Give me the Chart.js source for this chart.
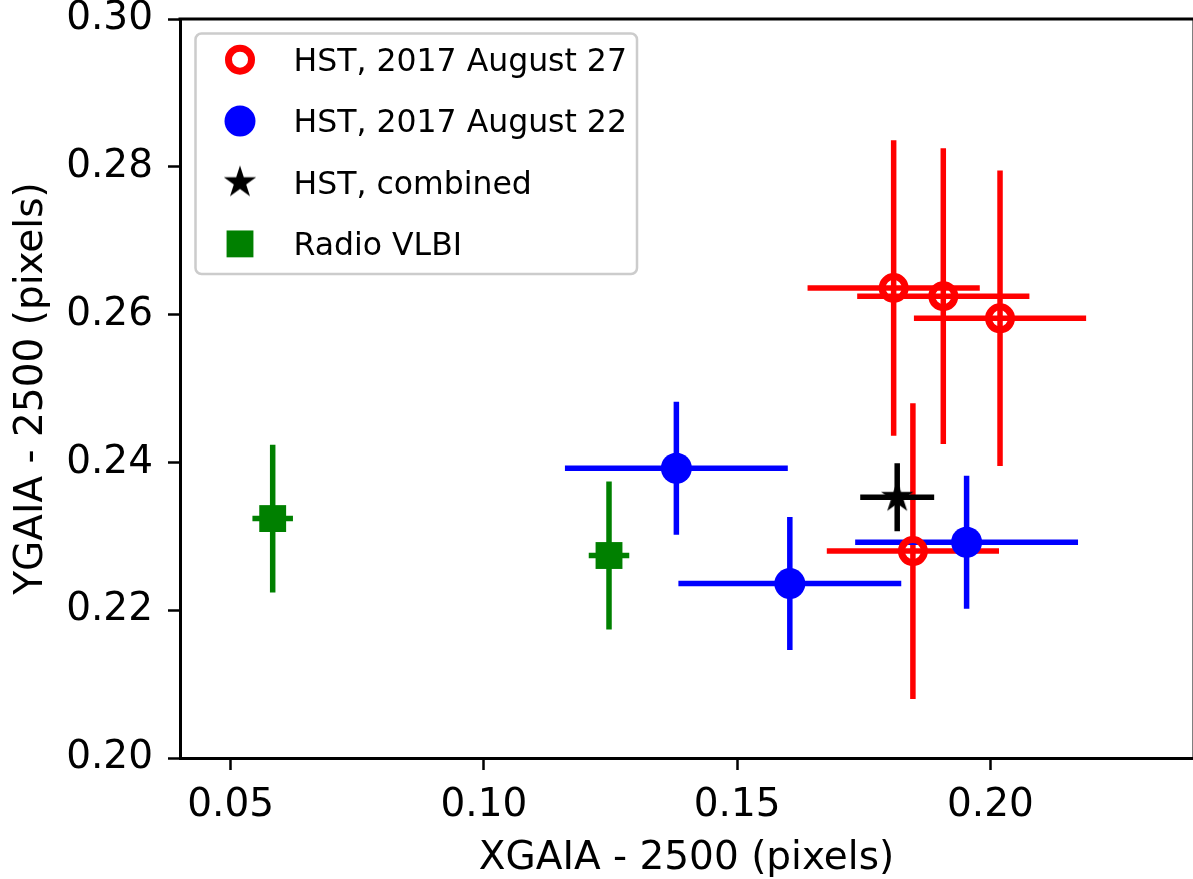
<!DOCTYPE html>
<html>
<head>
<meta charset="utf-8">
<title>GAIA frame offsets</title>
<script src="https://cdn.jsdelivr.net/npm/chart.js@4.4.1/dist/chart.umd.min.js"></script>
<style>
  html, body { margin: 0; padding: 0; background: #fff; }
  #wrap { width: 1193px; height: 879px; }
</style>
</head>
<body>
<div id="wrap"><canvas id="posChart" width="1193" height="879"></canvas></div>
<script>
// HST, 2017 August 27 (open red circles)
var aug27X = [0.1809, 0.1907, 0.2019, 0.1847];
var aug27Y = [0.2636, 0.2625, 0.2595, 0.2280];
var aug27XErr = [0.0170, 0.0170, 0.0170, 0.0170];
var aug27YErr = [0.0200, 0.0200, 0.0200, 0.0200];

// HST, 2017 August 22 (filled blue circles)
var aug22X = [0.1380, 0.1604, 0.1953];
var aug22Y = [0.2392, 0.2236, 0.2292];
var aug22XErr = [0.0220, 0.0220, 0.0220];
var aug22YErr = [0.0090, 0.0090, 0.0090];

// HST, both epochs combined
var combX = [0.1816];
var combY = [0.2353];
var combXErr = [0.0073];
var combYErr = [0.0046];

// Radio VLBI positions
var vlbiX = [0.0583, 0.1247];
var vlbiY = [0.2324, 0.2274];
var vlbiXErr = [0.0040, 0.0040];
var vlbiYErr = [0.0100, 0.0100];

var seriesNames = ['HST, 2017 August 27', 'HST, 2017 August 22', 'HST, combined', 'Radio VLBI'];

var xTicks = [0.05, 0.10, 0.15, 0.20];
var xTickLabels = ['0.05', '0.10', '0.15', '0.20'];
var yTicks = [0.20, 0.22, 0.24, 0.26, 0.28, 0.30];
var yTickLabels = ['0.20', '0.22', '0.24', '0.26', '0.28', '0.30'];

var FONT = '"DejaVu Sans", Verdana, sans-serif';

function toPoints(xs, ys) {
    return xs.map(function (x, i) { return { x: x, y: ys[i] }; });
}

// filled five-pointed star used as the "combined" marker
function makeStar(R) {
    var c = document.createElement('canvas');
    var size = Math.ceil(R * 2 + 2);
    c.width = size;
    c.height = size;
    var g = c.getContext('2d');
    var cx = size / 2, cy = size / 2, r = R * 0.382;
    g.beginPath();
    for (var k = 0; k < 10; k++) {
        var a = -Math.PI / 2 + k * Math.PI / 5;
        var rr = (k % 2 == 0) ? R : r;
        g.lineTo(cx + rr * Math.cos(a), cy + rr * Math.sin(a));
    }
    g.closePath();
    g.fillStyle = '#000000';
    g.fill();
    return c;
}
var starImg = makeStar(17);

var datasets = [
    {
        label: seriesNames[0], data: toPoints(aug27X, aug27Y), errX: aug27XErr, errY: aug27YErr,
        barColor: '#ff0000', pointStyle: 'circle', pointRadius: 11.5, pointBorderWidth: 7,
        pointBackgroundColor: 'rgba(0,0,0,0)', pointBorderColor: '#ff0000'
    },
    {
        label: seriesNames[1], data: toPoints(aug22X, aug22Y), errX: aug22XErr, errY: aug22YErr,
        barColor: '#0000ff', pointStyle: 'circle', pointRadius: 15.5, pointBorderWidth: 0,
        pointBackgroundColor: '#0000ff', pointBorderColor: '#0000ff'
    },
    {
        label: seriesNames[2], data: toPoints(combX, combY), errX: combXErr, errY: combYErr,
        barColor: '#000000', pointStyle: starImg, pointRadius: 17, pointBorderWidth: 0,
        pointBackgroundColor: '#000000', pointBorderColor: '#000000'
    },
    {
        label: seriesNames[3], data: toPoints(vlbiX, vlbiY), errX: vlbiXErr, errY: vlbiYErr,
        barColor: '#008000', pointStyle: 'rect', pointRadius: 19, pointBorderWidth: 0,
        pointBackgroundColor: '#008000', pointBorderColor: '#008000'
    }
];

// x and y error bars, under every marker
var errorBars = {
    id: 'errorBars',
    beforeDatasetsDraw: function (chart) {
        var ctx = chart.ctx, sx = chart.scales.x, sy = chart.scales.y;
        ctx.save();
        ctx.lineWidth = 5.5;
        ctx.lineCap = 'butt';
        chart.data.datasets.forEach(function (ds) {
            ctx.strokeStyle = ds.barColor;
            ds.data.forEach(function (p, i) {
                var px = sx.getPixelForValue(p.x);
                var py = sy.getPixelForValue(p.y);
                ctx.beginPath();
                ctx.moveTo(sx.getPixelForValue(p.x - ds.errX[i]), py);
                ctx.lineTo(sx.getPixelForValue(p.x + ds.errX[i]), py);
                ctx.moveTo(px, sy.getPixelForValue(p.y - ds.errY[i]));
                ctx.lineTo(px, sy.getPixelForValue(p.y + ds.errY[i]));
                ctx.stroke();
            });
        });
        ctx.restore();
    }
};

// top and right spines (the scales only give left and bottom)
var frame = {
    id: 'frame',
    afterDraw: function (chart) {
        var ctx = chart.ctx, a = chart.chartArea;
        ctx.save();
        ctx.strokeStyle = '#000000';
        ctx.lineWidth = 3;
        ctx.beginPath();
        ctx.moveTo(a.left - 1.5, a.top);
        ctx.lineTo(a.right + 2, a.top);
        ctx.moveTo(a.right + 1, a.top);
        ctx.lineTo(a.right + 1, a.bottom);
        ctx.stroke();
        ctx.restore();
    }
};

// boxed legend in the upper left corner of the plot
var boxLegend = {
    id: 'boxLegend',
    afterDraw: function (chart) {
        var ctx = chart.ctx;
        ctx.save();
        ctx.beginPath();
        ctx.roundRect(195.5, 33.5, 441.5, 240.5, 6);
        ctx.fillStyle = 'rgba(255,255,255,0.8)';
        ctx.fill();
        ctx.lineWidth = 2.5;
        ctx.strokeStyle = '#cccccc';
        ctx.stroke();

        ctx.font = '31.5px ' + FONT;
        ctx.textAlign = 'left';
        ctx.textBaseline = 'alphabetic';
        chart.data.datasets.forEach(function (ds, i) {
            var cy = 59.7 + i * 61.4;
            var cx = 240;
            ctx.fillStyle = ds.pointBackgroundColor;
            ctx.strokeStyle = ds.pointBorderColor;
            ctx.lineWidth = ds.pointBorderWidth;
            if (Chart.helpers && Chart.helpers.drawPoint) {
                Chart.helpers.drawPoint(ctx, {
                    pointStyle: ds.pointStyle, rotation: 0,
                    radius: ds.pointRadius, borderWidth: ds.pointBorderWidth
                }, cx, cy);
            }
            ctx.fillStyle = '#000000';
            ctx.fillText(ds.label, 293.5, cy + 11.2);
        });
        ctx.restore();
    }
};

new Chart(document.getElementById('posChart'), {
    type: 'scatter',
    data: { datasets: datasets },
    plugins: [errorBars, frame, boxLegend],
    options: {
        responsive: false,
        devicePixelRatio: 1,
        animation: false,
        events: [],
        layout: { autoPadding: false, padding: { top: 19, right: 0, bottom: 0, left: 0 } },
        plugins: {
            legend: { display: false },
            tooltip: { enabled: false }
        },
        scales: {
            x: {
                type: 'linear',
                min: 0.04,
                max: 0.24,
                afterBuildTicks: function (s) {
                    s.ticks = xTicks.map(function (v) { return { value: v }; });
                },
                afterFit: function (s) {
                    s.height = 121;
                    s.paddingLeft = 0;
                    s.paddingRight = 0;
                },
                ticks: {
                    callback: function (v, i) { return xTickLabels[i]; },
                    font: { family: FONT, size: 39, lineHeight: 1.2 },
                    color: '#000000',
                    padding: 12,
                    maxRotation: 0,
                    autoSkip: false
                },
                grid: {
                    display: true, drawOnChartArea: false, drawTicks: true,
                    tickLength: 12, tickWidth: 2.5, tickColor: '#000000'
                },
                border: { display: true, color: '#000000', width: 3 },
                title: {
                    display: true,
                    text: 'XGAIA - 2500 (pixels)',
                    color: '#000000',
                    font: { family: FONT, size: 39, lineHeight: 1 },
                    padding: { top: 0, bottom: 1 }
                }
            },
            y: {
                type: 'linear',
                min: 0.20,
                max: 0.30,
                afterBuildTicks: function (s) {
                    s.ticks = yTicks.map(function (v) { return { value: v }; });
                },
                afterFit: function (s) {
                    s.width = 180;
                    s.paddingTop = 0;
                    s.paddingBottom = 0;
                },
                ticks: {
                    callback: function (v, i) { return yTickLabels[i]; },
                    font: { family: FONT, size: 39, lineHeight: 1.2 },
                    color: '#000000',
                    padding: 15,
                    autoSkip: false
                },
                grid: {
                    display: true, drawOnChartArea: false, drawTicks: true,
                    tickLength: 12, tickWidth: 2.5, tickColor: '#000000'
                },
                border: { display: true, color: '#000000', width: 3 },
                title: {
                    display: true,
                    text: 'YGAIA - 2500 (pixels)',
                    color: '#000000',
                    font: { family: FONT, size: 39, lineHeight: 1 },
                    padding: { top: 12, bottom: 0 }
                }
            }
        }
    }
});
</script>
</body>
</html>
